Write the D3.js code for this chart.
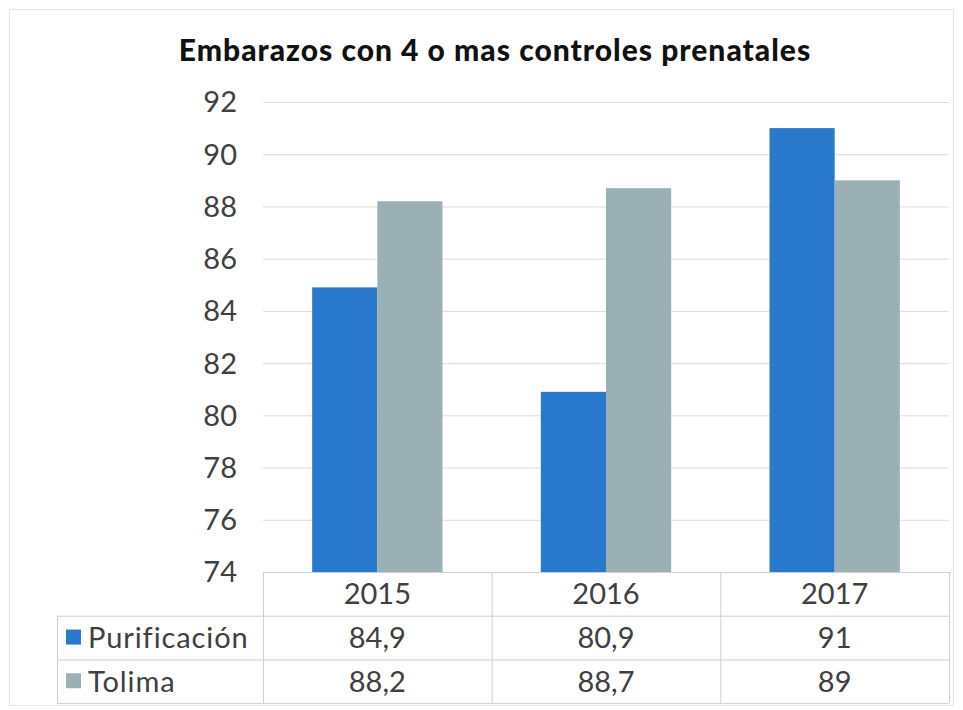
<!DOCTYPE html>
<html>
<head>
<meta charset="utf-8">
<script src="https://cdn.jsdelivr.net/npm/d3@7"></script>
<style>
  body { margin: 0; background: #fff; }
  svg text { font-family: "Century Gothic", Lato, "Open Sans", sans-serif; fill: #404040; }
</style>
</head>
<body>
<div id="chart"></div>
<script>
// datos
const years = ["2015", "2016", "2017"];
const seriesNames = ["Purificación", "Tolima"];
const purificacion = [84.9, 80.9, 91];
const tolima = [88.2, 88.7, 89];
const valueLabels = [["84,9", "80,9", "91"], ["88,2", "88,7", "89"]];
const yTicks = [74, 76, 78, 80, 82, 84, 86, 88, 90, 92];
const colors = ["#2878cc", "#9bb0b5"];

const width = 963, height = 710;
const plot = { left: 263, right: 949, top: 102, bottom: 572 };
const rowH = 43.7;
const tableLeft = 57;

const svg = d3.select("#chart")
    .append("svg")
    .attr("width", width)
    .attr("height", height);

// borde exterior
svg.append("rect")
    .attr("x", 9.5).attr("y", 9.5)
    .attr("width", 944).attr("height", 696)
    .attr("fill", "none")
    .attr("stroke", "#e6e6e6");

// título
svg.append("text")
    .attr("x", 495)
    .attr("y", 61)
    .attr("text-anchor", "middle")
    .style("font-size", "30px")
    .style("font-weight", "900")
    .style("letter-spacing", "1px")
    .style("fill", "#111")
    .text("Embarazos con 4 o mas controles prenatales");

// escalas
const xCol = d3.scaleBand()
    .domain(years)
    .range([plot.left, plot.right]);

const groupW = xCol.bandwidth() * 0.57;
const xSeries = d3.scaleBand()
    .domain(seriesNames)
    .range([0, groupW]);

const y = d3.scaleLinear()
    .domain([74, 92])
    .range([plot.bottom, plot.top]);

// líneas de cuadrícula
svg.append("g")
    .selectAll("line")
    .data(yTicks.slice(1))
    .enter()
    .append("line")
    .attr("x1", plot.left)
    .attr("x2", plot.right)
    .attr("y1", d => y(d) + 0.5)
    .attr("y2", d => y(d) + 0.5)
    .attr("stroke", "#dcdcdc")
    .attr("stroke-width", 1);

// etiquetas del eje Y
svg.append("g")
    .selectAll("text")
    .data(yTicks)
    .enter()
    .append("text")
    .attr("x", 237)
    .attr("y", d => y(d))
    .attr("dy", "0.36em")
    .attr("text-anchor", "end")
    .style("font-size", "29px")
    .text(d => d);

// barras
const data = years.map((yr, i) => ({ year: yr, values: [purificacion[i], tolima[i]] }));

const groups = svg.append("g")
    .selectAll("g")
    .data(data)
    .enter()
    .append("g")
    .attr("transform", d => `translate(${xCol(d.year) + (xCol.bandwidth() - groupW) / 2},0)`);

groups.selectAll("rect")
    .data(d => d.values.map((v, j) => ({ name: seriesNames[j], value: v, j: j })))
    .enter()
    .append("rect")
    .attr("x", d => xSeries(d.name))
    .attr("width", xSeries.bandwidth())
    .attr("y", d => y(d.value))
    .attr("height", d => y(74) - y(d.value))
    .attr("fill", d => colors[d.j]);

// tabla de datos
const tbl = svg.append("g");
const lineColor = "#cfcfcf";
const rowY = [plot.bottom, plot.bottom + rowH, plot.bottom + 2 * rowH, plot.bottom + 3 * rowH];

// líneas horizontales
tbl.append("line")
    .attr("x1", plot.left).attr("x2", plot.right)
    .attr("y1", rowY[0] + 0.5).attr("y2", rowY[0] + 0.5)
    .attr("stroke", lineColor);
[rowY[1], rowY[2], rowY[3]].forEach(yy => {
    tbl.append("line")
        .attr("x1", tableLeft).attr("x2", plot.right)
        .attr("y1", yy + 0.5).attr("y2", yy + 0.5)
        .attr("stroke", lineColor);
});

// líneas verticales
years.forEach(yr => {
    tbl.append("line")
        .attr("x1", xCol(yr) + 0.5).attr("x2", xCol(yr) + 0.5)
        .attr("y1", rowY[0]).attr("y2", rowY[3])
        .attr("stroke", lineColor);
});
tbl.append("line")
    .attr("x1", plot.right + 0.5).attr("x2", plot.right + 0.5)
    .attr("y1", rowY[0]).attr("y2", rowY[3])
    .attr("stroke", lineColor);
tbl.append("line")
    .attr("x1", tableLeft + 0.5).attr("x2", tableLeft + 0.5)
    .attr("y1", rowY[1]).attr("y2", rowY[3])
    .attr("stroke", lineColor);

// encabezados de años
tbl.selectAll(".year")
    .data(years)
    .enter()
    .append("text")
    .attr("class", "year")
    .attr("x", d => xCol(d) + xCol.bandwidth() / 2)
    .attr("y", rowY[0] + rowH / 2)
    .attr("dy", "0.36em")
    .attr("text-anchor", "middle")
    .style("font-size", "29px")
    .text(d => d);

// filas de series
seriesNames.forEach((name, j) => {
    const cy = rowY[j + 1] + rowH / 2;
    tbl.append("rect")
        .attr("x", 66)
        .attr("y", cy - 8)
        .attr("width", 15)
        .attr("height", 15)
        .attr("fill", colors[j]);
    tbl.append("text")
        .attr("x", 88)
        .attr("y", cy)
        .attr("dy", "0.36em")
        .style("font-size", "29px")
        .style("letter-spacing", "0.9px")
        .text(name);
    tbl.selectAll(".v" + j)
        .data(years)
        .enter()
        .append("text")
        .attr("x", d => xCol(d) + xCol.bandwidth() / 2)
        .attr("y", cy)
        .attr("dy", "0.36em")
        .attr("text-anchor", "middle")
        .style("font-size", "29px")
        .text((d, i) => valueLabels[j][i]);
});
</script>
</body>
</html>
